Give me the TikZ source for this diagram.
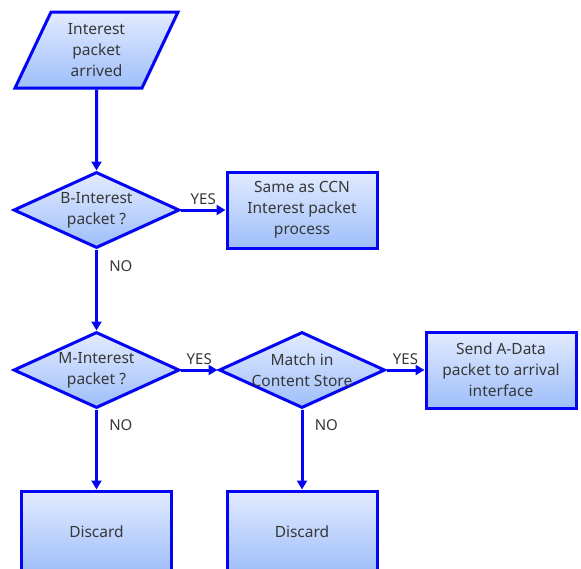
\documentclass[tikz,border=0pt]{standalone}
\usepackage{fontspec}
\setmainfont{Noto Sans}
\usetikzlibrary{arrows.meta,shapes.geometric,shadows}
\definecolor{edgeblue}{RGB}{5,5,245}
\definecolor{filltop}{RGB}{226,235,255}
\definecolor{fillbot}{RGB}{158,190,250}
\definecolor{textgray}{RGB}{55,55,55}
\tikzset{
  base/.style={draw=edgeblue,line width=3pt,top color=filltop,bottom color=fillbot,
    drop shadow={opacity=.2,shadow xshift=1.5pt,shadow yshift=-1.5pt}},
  boxtext/.style={text=textgray,font=\fontsize{15.5}{21}\selectfont,align=center},
  procbox/.style={base,boxtext,rectangle,minimum width=150pt,minimum height=76pt,inner sep=0pt},
  iobox/.style={base,boxtext,trapezium,trapezium left angle=67,trapezium right angle=113,
    trapezium stretches=true,minimum width=163pt,minimum height=76pt,inner sep=0pt},
  decision/.style={base,diamond,minimum width=166pt,minimum height=76pt,inner sep=0pt},
  flow/.style={draw=edgeblue,line width=3pt,-{Triangle[length=9pt,width=10pt]}},
  answer/.style={text=textgray,font=\fontsize{15}{17}\selectfont}
}
\begin{document}
\begin{tikzpicture}[x=1pt,y=-1pt]
\useasboundingbox(0,0)rectangle(581,568);
% shapes
\node[iobox](arrived)at(96.5,50){Interest\\packet\\arrived};
\node[decision](bq)at(96.5,210){};\node[boxtext](bqtext)at(bq){B-Interest\\packet ?};
\node[procbox](ccn)at(302,210){Same as CCN\\Interest packet\\process};
\node[decision](mq)at(96.5,370){};\node[boxtext](mqtext)at(mq){M-Interest\\packet ?};
\node[decision](match)at(302,370){};\node[boxtext](matchtext)at(match){Match in\\Content Store};
\node[procbox](send)at(501,370){Send A-Data\\packet to arrival\\interface};
\node[procbox,minimum height=82pt](drop1)at(96.5,532){Discard};
\node[procbox,minimum height=82pt](drop2)at(302,532){Discard};
% connectors
\draw[flow](arrived)--(bq);
\draw[flow](bq.east)--(ccn.west)node[midway,above=1pt,answer]{YES};
\draw[flow](bq.south)--(mq.north)node[pos=.2,right=8pt,answer]{NO};
\draw[flow](mq.east)--(match.west)node[midway,above=1pt,answer]{YES};
\draw[flow](match.east)--(send.west)node[midway,above=1pt,answer]{YES};
\draw[flow](mq.south)--(drop1.north)node[pos=.2,right=8pt,answer]{NO};
\draw[flow](match.south)--(drop2.north)node[pos=.2,right=8pt,answer]{NO};
\end{tikzpicture}
\end{document}
